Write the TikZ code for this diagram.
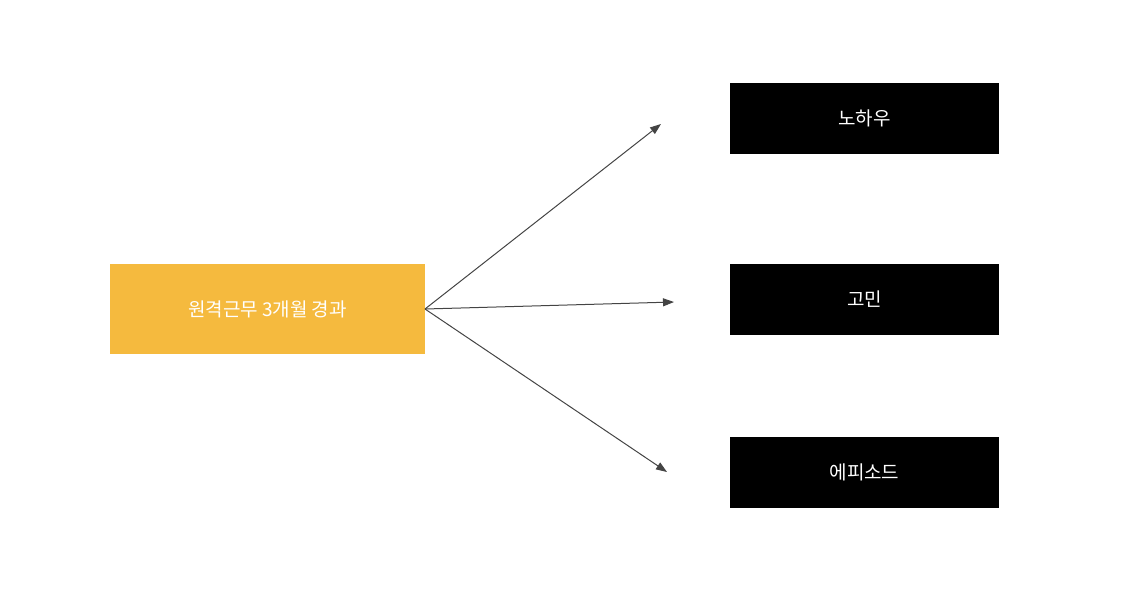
\documentclass[tikz,border=0pt]{standalone}
\usepackage{fontspec}
\setmainfont{Noto Sans CJK KR}
\usetikzlibrary{arrows.meta}
\definecolor{orng}{HTML}{F5BA3E}
\definecolor{ln}{HTML}{444444}
\begin{document}
\begin{tikzpicture}[x=1pt,y=-1pt,
  box/.style={minimum width=269pt,minimum height=71pt,fill=black,text=white,inner sep=0pt,font=\fontsize{19pt}{22pt}\selectfont},
  arr/.style={draw=ln,line width=1pt,-{Triangle[length=11pt,width=8pt]}}]
\useasboundingbox (0,0) rectangle (1125,592);
\node[fill=orng,text=white,minimum width=315pt,minimum height=90pt,inner sep=0pt,font=\fontsize{19pt}{22pt}\selectfont] (src) at (267.5,309) {원격근무 3개월 경과};
\node[box] (a) at (864.5,118.5) {노하우};
\node[box] (b) at (864.5,299) {고민};
\node[box] (c) at (864.5,472) {에피소드};
\coordinate (s) at (425,309);
\coordinate (ea) at (661,124);
\coordinate (eb) at (674,302);
\coordinate (ec) at (667,472);
\draw[arr] (s) -- (ea);
\draw[arr] (s) -- (eb);
\draw[arr] (s) -- (ec);
\end{tikzpicture}
\end{document}
